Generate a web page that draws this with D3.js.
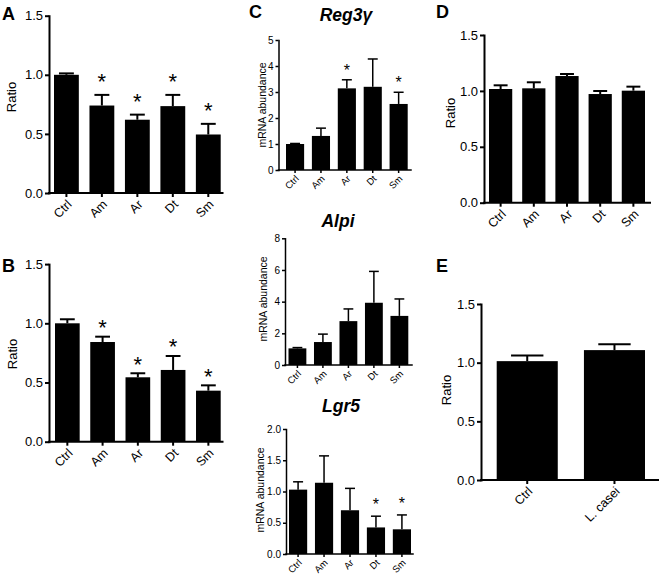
<!DOCTYPE html>
<html>
<head>
<meta charset="utf-8">
<script src="https://cdn.jsdelivr.net/npm/d3@7/dist/d3.min.js"></script>
<style>
  html,body{margin:0;padding:0;background:#fff;}
  svg{display:block;}
  text{font-family:"Liberation Sans",Arial,sans-serif;fill:#000;}
</style>
</head>
<body>
<svg id="chart" width="660" height="577"></svg>
<script>
// ---------- DATA ----------
const groups5 = ["Ctrl", "Am", "Ar", "Dt", "Sm"];
const groupsE = ["Ctrl", "L. casei"];

const ratioA = [1.0, 0.74, 0.62, 0.735, 0.495];
const errA   = [0.012, 0.09, 0.043, 0.095, 0.09];
const sigA   = [false, true, true, true, true];

const ratioB = [1.0, 0.842, 0.544, 0.606, 0.431];
const errB   = [0.034, 0.045, 0.034, 0.118, 0.045];
const sigB   = [false, true, true, true, true];

const reg3g    = [1.0, 1.31, 3.14, 3.2, 2.54];
const reg3gErr = [0.02, 0.3, 0.33, 1.07, 0.45];
const reg3gSig = [false, false, true, false, true];

const alpi    = [1.05, 1.45, 2.77, 3.93, 3.1];
const alpiErr = [0.05, 0.5, 0.77, 1.98, 1.07];
const alpiSig = [false, false, false, false, false];

const lgr5    = [1.03, 1.14, 0.70, 0.425, 0.395];
const lgr5Err = [0.125, 0.43, 0.35, 0.18, 0.23];
const lgr5Sig = [false, false, false, true, true];

const ratioD = [1.017, 1.023, 1.133, 0.972, 1.002];
const errD   = [0.033, 0.054, 0.018, 0.027, 0.036];
const sigD   = [false, false, false, false, false];

const ratioE = [1.013, 1.107];
const errE   = [0.049, 0.049];
const sigE   = [false, false];

const ratioTicks = [0, 0.5, 1.0, 1.5];
const reg3gTicks = [0, 1, 2, 3, 4, 5];
const alpiTicks  = [0, 2, 4, 6, 8];
const lgr5Ticks  = [0, 0.5, 1.0, 1.5, 2.0];

// ---------- DRAW ----------
const svg = d3.select("#chart");

function panel(cfg) {
  const g = svg.append("g");
  const y = d3.scaleLinear().domain([0, cfg.yMax]).range([cfg.yB, cfg.yT]);
  const x = d3.scaleBand().domain(cfg.cats).range([cfg.bandL, cfg.bandR])
              .paddingInner(cfg.pi).paddingOuter(0);
  const bw = x.bandwidth();
  const rows = cfg.cats.map((c, i) => ({c, v: cfg.values[i], e: cfg.errors[i], s: cfg.sig[i]}));

  // bars
  g.selectAll("rect.bar").data(rows).join("rect")
    .attr("x", d => x(d.c)).attr("y", d => y(d.v))
    .attr("width", bw).attr("height", d => cfg.yB - y(d.v))
    .attr("fill", "#000");

  // error bars (upper only)
  const cw = bw * cfg.capFrac;
  rows.forEach(d => {
    const cx = x(d.c) + bw / 2;
    g.append("line").attr("x1", cx).attr("x2", cx)
      .attr("y1", y(d.v)).attr("y2", y(d.v + d.e))
      .attr("stroke", "#000").attr("stroke-width", cfg.sw);
    g.append("line").attr("x1", cx - cw / 2).attr("x2", cx + cw / 2)
      .attr("y1", y(d.v + d.e)).attr("y2", y(d.v + d.e))
      .attr("stroke", "#000").attr("stroke-width", cfg.sw);
    if (d.s) {
      g.append("text").attr("x", cx).attr("y", y(d.v + d.e) - cfg.starGap)
        .attr("text-anchor", "middle").style("font-size", cfg.starSize + "px")
        .text("*");
    }
  });

  // y axis
  const ya = g.append("g").attr("transform", `translate(${cfg.left},0)`)
    .call(d3.axisLeft(y).tickValues(cfg.ticks).tickFormat(cfg.fmt)
      .tickSize(cfg.ts).tickPadding(2).tickSizeOuter(0));
  ya.select(".domain").attr("stroke-width", cfg.sw).attr("stroke-linecap", "square");
  ya.selectAll(".tick line").attr("stroke-width", cfg.sw);
  ya.selectAll(".tick text").style("font-size", cfg.tickFont + "px")
    .style("font-family", '"Liberation Sans",Arial,sans-serif');

  // x axis
  const xa = g.append("g").attr("transform", `translate(0,${cfg.yB})`)
    .call(d3.axisBottom(x).tickSize(cfg.ts).tickSizeOuter(0));
  xa.select(".domain").remove();
  xa.append("line").attr("x1", cfg.left).attr("x2", cfg.right)
    .attr("y1", 0).attr("y2", 0).attr("stroke", "#000")
    .attr("stroke-width", cfg.sw).attr("stroke-linecap", "square");
  xa.selectAll(".tick line").attr("stroke-width", cfg.sw);
  xa.selectAll(".tick text")
    .style("font-size", cfg.xFont + "px")
    .style("font-family", '"Liberation Sans",Arial,sans-serif')
    .style("text-anchor", "end")
    .attr("x", 0).attr("y", 0).attr("dy", "0.35em")
    .attr("transform", `translate(${cfg.lx},${cfg.ly}) rotate(-45)`);

  // y label
  g.append("text")
    .attr("transform", `translate(${cfg.labX},${cfg.labY}) rotate(-90)`)
    .attr("text-anchor", "middle").attr("dy", "0.35em")
    .style("font-size", cfg.labSize + "px")
    .text(cfg.yLabel);
}

const fmt1 = d3.format(".1f");
const fmt0 = d3.format("d");

const big = {sw: 2, ts: 4, tickFont: 13, xFont: 12.5, starSize: 22, capFrac: 0.6,
             lx: 3, ly: 9, labSize: 13, yLabel: "Ratio", fmt: fmt1, ticks: ratioTicks, yMax: 1.5, pi: 0.3};
const small = {sw: 1.5, ts: 3, tickFont: 10, xFont: 9.5, starSize: 16, capFrac: 0.55,
               lx: 2, ly: 7, labSize: 10.5, yLabel: "mRNA abundance", pi: 0.3};

panel(Object.assign({}, big, {cats: groups5, values: ratioA, errors: errA, sig: sigA,
  left: 49, right: 222.5, yB: 193, yT: 15.7, bandL: 54, bandR: 220.7,
  starGap: 6, labX: 11, labY: 97}));
panel(Object.assign({}, big, {cats: groups5, values: ratioB, errors: errB, sig: sigB,
  left: 49, right: 222.5, yB: 441.7, yT: 264.1, bandL: 55, bandR: 220.7,
  starGap: 1.5, labX: 12, labY: 354}));
panel(Object.assign({}, small, {cats: groups5, values: reg3g, errors: reg3gErr, sig: reg3gSig,
  yMax: 5, ticks: reg3gTicks, fmt: fmt0,
  left: 278.5, right: 411, yB: 170, yT: 40, bandL: 286, bandR: 407.7,
  starGap: 4, labX: 262, labY: 105}));
panel(Object.assign({}, small, {cats: groups5, values: alpi, errors: alpiErr, sig: alpiSig,
  yMax: 8, ticks: alpiTicks, fmt: fmt0,
  left: 285, right: 412, yB: 365, yT: 238.3, bandL: 288.5, bandR: 408.3,
  starGap: 4, labX: 263.5, labY: 299}));
panel(Object.assign({}, small, {cats: groups5, values: lgr5, errors: lgr5Err, sig: lgr5Sig,
  yMax: 2, ticks: lgr5Ticks, fmt: fmt1,
  left: 286, right: 413, yB: 554, yT: 429, bandL: 289, bandR: 411,
  starGap: 6, labX: 260, labY: 490}));
panel(Object.assign({}, big, {cats: groups5, values: ratioD, errors: errD, sig: sigD,
  left: 484, right: 650, yB: 202.7, yT: 35, bandL: 489, bandR: 645,
  starGap: 4, labX: 450, labY: 113}));
panel(Object.assign({}, big, {cats: groupsE, values: ratioE, errors: errE, sig: sigE,
  left: 481, right: 658, yB: 480, yT: 304, bandL: 496.7, bandR: 645, capFrac: 0.53,
  starGap: 4, labX: 446, labY: 390}));

// panel letters
const letters = [["A", 2, 20], ["B", 2, 272], ["C", 249, 18], ["D", 436, 18], ["E", 436, 272]];
svg.selectAll("text.letter").data(letters).join("text").attr("class", "letter")
  .attr("x", d => d[1]).attr("y", d => d[2])
  .style("font-size", "18px").style("font-weight", "bold")
  .text(d => d[0]);

// gene titles
const titles = [["Reg3γ", 346, 20.7], ["Alpi", 338, 227.3], ["Lgr5", 341, 411.7]];
svg.selectAll("text.title").data(titles).join("text").attr("class", "title")
  .attr("x", d => d[1]).attr("y", d => d[2]).attr("text-anchor", "middle")
  .style("font-size", "17.5px").style("font-weight", "bold").style("font-style", "italic")
  .text(d => d[0]);
</script>
</body>
</html>
